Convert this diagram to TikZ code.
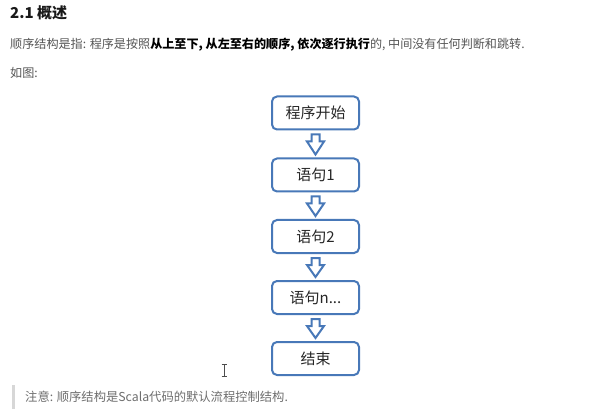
\documentclass[tikz,border=0pt]{standalone}
\usepackage{fontspec}
\setmainfont{Noto Sans CJK SC}
\usetikzlibrary{calc}
\definecolor{boxblue}{RGB}{72,120,184}
\definecolor{bodygray}{RGB}{85,85,85}
\definecolor{notegray}{RGB}{110,110,110}
\definecolor{barg}{RGB}{215,215,215}
\begin{document}
\begin{tikzpicture}[x=1pt,y=-1pt,
  stepbox/.style={draw=boxblue,line width=2pt,rounded corners=5pt,fill=white,
    minimum width=87pt,minimum height=33pt,inner sep=0pt,font=\fontsize{15}{17}\selectfont,text=black!85},
  hollowarrow/.style={draw=boxblue,line width=2pt,fill=white,line join=miter},
  bodytext/.style={anchor=west,inner sep=0pt,font=\fontsize{12.1}{14}\selectfont,text=bodygray}]
\useasboundingbox (0,0) rectangle (597,414);
\fill[white] (0,0) rectangle (597,414);
% heading
\node[anchor=west,inner sep=0pt,font=\fontsize{15}{18}\selectfont\bfseries,text=black!90] (title) at (10,13) {2.1 概述};
\node[bodytext] (line1) at (10,45) {顺序结构是指: 程序是按照\textcolor{black}{\bfseries 从上至下, 从左至右的顺序, 依次逐行执行}的, 中间没有任何判断和跳转.};
\node[bodytext] (line2) at (10,73) {如图:};
% flowchart
\node[stepbox] (s0) at (315.5,113) {程序开始};
\node[stepbox] (s1) at (315.5,175) {语句1};
\node[stepbox] (s2) at (315.5,236.5) {语句2};
\node[stepbox] (s3) at (315.5,297.5) {语句n...};
\node[stepbox] (s4) at (315.5,358.5) {结束};
\foreach \a/\b in {s0/s1,s1/s2,s2/s3,s3/s4}{
  \draw[hollowarrow] ($(\a.south)+(-4,4)$) -- ++(0,7) -- ++(-4.5,0) -- ($(\b.north)+(0,-3)$)
    -- ($(\a.south)+(8.5,11)$) -- ++(-4.5,0) -- ++(0,-7) -- cycle;
}
% text cursor
\draw[black!70,line width=0.9pt] (224,364) -- (224,376) (221.5,364) -- (226.5,364) (221.5,376) -- (226.5,376);
% note
\fill[barg] (12,385) rectangle (15,409);
\node[bodytext,text=notegray,font=\fontsize{12.3}{14}\selectfont] (note) at (25,397) {注意: 顺序结构是Scala代码的默认流程控制结构.};
\end{tikzpicture}
\end{document}
